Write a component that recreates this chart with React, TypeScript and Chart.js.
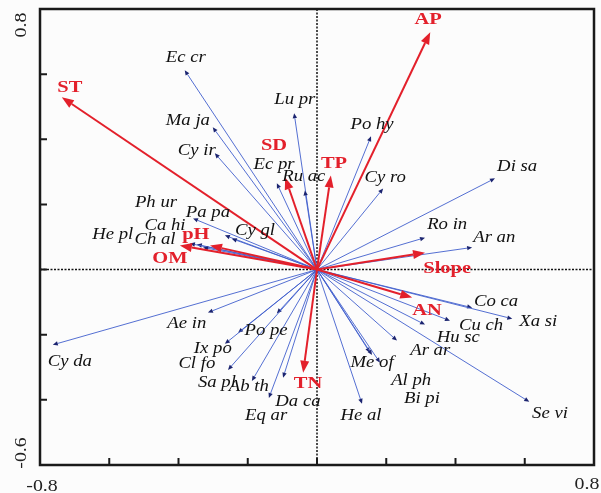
import React, { useEffect, useRef } from "react";
import { Chart, registerables } from "chart.js";

Chart.register(...registerables);

// Axis ranges and ticks
const xRange = [-0.8, 0.8];
const yRange = [-0.6, 0.8];
const xTickValues = [-0.6, -0.4, -0.2, 0, 0.2, 0.4, 0.6];
const yTickValues = [-0.4, -0.2, 0, 0.2, 0.4, 0.6];
const xEndLabels = ["-0.8", "0.8"];
const yEndLabels = ["-0.6", "0.8"];

// Environmental variables (red arrows)
const envNames = ["AP", "ST", "SD", "TP", "pH", "OM", "Slope", "AN", "TN"];
const envX = [0.327, -0.737, -0.092, 0.04, -0.309, -0.396, 0.312, 0.275, -0.04];
const envY = [0.729, 0.529, 0.283, 0.289, 0.074, 0.074, 0.052, -0.086, -0.317];
const envLabelX = [0.321, -0.714, -0.124, 0.049, -0.35, -0.425, 0.376, 0.318, -0.026];
const envLabelY = [0.769, 0.56, 0.382, 0.326, 0.108, 0.034, 0.003, -0.126, -0.351];

// Species (blue arrows)
const spNames = [
  "Ec cr", "Ma ja", "Cy ir", "Lu pr", "Po hy", "Ec pr", "Ru ac", "Cy ro", "Di sa",
  "Ro in", "Ar an", "Ph ur", "Pa pa", "Cy gl", "Ca hi", "He pl", "Ch al", "Co ca",
  "Xa si", "Cu ch", "Hu sc", "Ar ar", "Me of", "Al ph", "Bi pi", "He al", "Se vi",
  "Cy da", "Ae in", "Po pe", "Ix po", "Cl fo", "Sa pl", "Ab th", "Da ca", "Eq ar",
];
const spX = [
  -0.382, -0.301, -0.295, -0.066, 0.156, -0.116, -0.035, 0.191, 0.514,
  0.312, 0.448, -0.266, -0.358, -0.246, -0.347, -0.367, -0.329, 0.448,
  0.564, 0.384, 0.312, 0.231, 0.153, 0.182, 0.159, 0.13, 0.613,
  -0.763, -0.315, -0.116, -0.228, -0.266, -0.257, -0.188, -0.098, -0.139,
];
const spY = [
  0.612, 0.437, 0.357, 0.48, 0.409, 0.265, 0.243, 0.249, 0.28,
  0.098, 0.068, 0.105, 0.157, 0.095, 0.077, 0.08, 0.068, -0.117,
  -0.151, -0.157, -0.169, -0.218, -0.255, -0.286, -0.262, -0.412, -0.406,
  -0.231, -0.132, -0.135, -0.194, -0.228, -0.308, -0.342, -0.332, -0.394,
];
const spLabelX = [
  -0.379, -0.373, -0.347, -0.064, 0.159, -0.124, -0.038, 0.197, 0.578,
  0.376, 0.512, -0.465, -0.315, -0.179, -0.439, -0.59, -0.468, 0.517,
  0.639, 0.474, 0.408, 0.327, 0.159, 0.272, 0.303, 0.127, 0.673,
  -0.714, -0.376, -0.147, -0.301, -0.347, -0.289, -0.197, -0.055, -0.147,
];
const spLabelY = [
  0.649, 0.458, 0.366, 0.52, 0.443, 0.323, 0.286, 0.283, 0.317,
  0.138, 0.098, 0.206, 0.175, 0.12, 0.135, 0.108, 0.092, -0.098,
  -0.16, -0.172, -0.209, -0.249, -0.286, -0.342, -0.397, -0.449, -0.443,
  -0.283, -0.166, -0.188, -0.243, -0.289, -0.348, -0.36, -0.406, -0.449,
];

const RED = "#e3202b";
const BLUE = "rgba(65,95,205,0.9)";
const NAVY = "#1b2470";
const SERIF = "'Liberation Serif', 'DejaVu Serif', serif";
const STRETCH = 1.17;

function arrow(
  ctx: CanvasRenderingContext2D,
  x0: number, y0: number, x1: number, y1: number,
  color: string, headColor: string, width: number, headLen: number, headW: number
) {
  const ang = Math.atan2(y1 - y0, x1 - x0);
  const bx = x1 - headLen * Math.cos(ang);
  const by = y1 - headLen * Math.sin(ang);
  ctx.strokeStyle = color;
  ctx.lineWidth = width;
  ctx.beginPath();
  ctx.moveTo(x0, y0);
  ctx.lineTo(bx, by);
  ctx.stroke();
  ctx.fillStyle = headColor;
  ctx.beginPath();
  ctx.moveTo(x1, y1);
  ctx.lineTo(bx + headW * Math.sin(ang), by - headW * Math.cos(ang));
  ctx.lineTo(bx - headW * Math.sin(ang), by + headW * Math.cos(ang));
  ctx.closePath();
  ctx.fill();
}

function wideText(ctx: CanvasRenderingContext2D, s: string, x: number, y: number, rot = 0) {
  ctx.save();
  ctx.translate(x, y);
  if (rot) ctx.rotate(rot);
  ctx.scale(STRETCH, 1);
  ctx.fillText(s, 0, 0);
  ctx.restore();
}

const biplotPlugin = {
  id: "biplot",
  afterDatasetsDraw(chart: any) {
    const ctx: CanvasRenderingContext2D = chart.ctx;
    const xs = chart.scales.x;
    const ys = chart.scales.y;
    const area = chart.chartArea;
    const px = (v: number) => xs.getPixelForValue(v);
    const py = (v: number) => ys.getPixelForValue(v);
    const ox = px(0);
    const oy = py(0);
    ctx.save();

    // dotted zero lines
    ctx.strokeStyle = "#111";
    ctx.lineWidth = 1.5;
    ctx.setLineDash([2, 1.5]);
    ctx.beginPath();
    ctx.moveTo(ox, area.top);
    ctx.lineTo(ox, area.bottom);
    ctx.moveTo(area.left, oy);
    ctx.lineTo(area.right, oy);
    ctx.stroke();
    ctx.setLineDash([]);

    // species arrows
    for (let i = 0; i < spNames.length; i++) {
      arrow(ctx, ox, oy, px(spX[i]), py(spY[i]), BLUE, NAVY, 1, 5, 2.2);
    }
    // environmental arrows
    for (let i = 0; i < envNames.length; i++) {
      arrow(ctx, ox, oy, px(envX[i]), py(envY[i]), RED, RED, 2, 12, 4.5);
    }

    // labels
    ctx.textAlign = "center";
    ctx.textBaseline = "middle";
    ctx.fillStyle = "#111";
    ctx.font = `italic 16px ${SERIF}`;
    for (let i = 0; i < spNames.length; i++) {
      wideText(ctx, spNames[i], px(spLabelX[i]), py(spLabelY[i]));
    }
    ctx.fillStyle = RED;
    ctx.font = `bold 17.5px ${SERIF}`;
    for (let i = 0; i < envNames.length; i++) {
      wideText(ctx, envNames[i], px(envLabelX[i]), py(envLabelY[i]));
    }

    // frame
    ctx.strokeStyle = "#1a1a1a";
    ctx.lineWidth = 2.5;
    ctx.strokeRect(area.left, area.top, area.right - area.left, area.bottom - area.top);

    // inward ticks
    ctx.lineWidth = 2;
    ctx.beginPath();
    for (const v of xTickValues) {
      ctx.moveTo(px(v), area.bottom);
      ctx.lineTo(px(v), area.bottom - 7);
    }
    for (const v of yTickValues) {
      ctx.moveTo(area.left, py(v));
      ctx.lineTo(area.left + 7, py(v));
    }
    ctx.stroke();

    // axis end labels
    ctx.fillStyle = "#222";
    ctx.font = `17px ${SERIF}`;
    ctx.textBaseline = "top";
    ctx.textAlign = "center";
    wideText(ctx, xEndLabels[0], px(xRange[0]) + 2, area.bottom + 13);
    wideText(ctx, xEndLabels[1], px(xRange[1]) - 7, area.bottom + 11);
    ctx.textBaseline = "middle";
    wideText(ctx, yEndLabels[1], 22, py(yRange[1]) + 16, -Math.PI / 2);
    wideText(ctx, yEndLabels[0], 22, py(yRange[0]) - 12, -Math.PI / 2);

    ctx.restore();
  },
};

export default function App() {
  const ref = useRef<HTMLCanvasElement | null>(null);
  useEffect(() => {
    if (!ref.current) return;
    const chart = new Chart(ref.current, {
      type: "scatter",
      data: {
        datasets: [
          {
            label: "species",
            data: spX.map((x, i) => ({ x, y: spY[i] })),
            pointRadius: 0,
          },
          {
            label: "env",
            data: envX.map((x, i) => ({ x, y: envY[i] })),
            pointRadius: 0,
          },
        ],
      },
      options: {
        animation: false,
        responsive: false,
        layout: { padding: { left: 40, top: 9, right: 7, bottom: 28 } },
        plugins: { legend: { display: false }, tooltip: { enabled: false } },
        scales: {
          x: { type: "linear", min: xRange[0], max: xRange[1], display: false },
          y: { type: "linear", min: yRange[0], max: yRange[1], display: false },
        },
      },
      plugins: [biplotPlugin],
    });
    return () => chart.destroy();
  }, []);
  return (
    <div style={{ position: "fixed", left: 0, top: 0, width: 601, height: 493, background: "#fcfcfc" }}>
      <canvas ref={ref} width={601} height={493} />
    </div>
  );
}
